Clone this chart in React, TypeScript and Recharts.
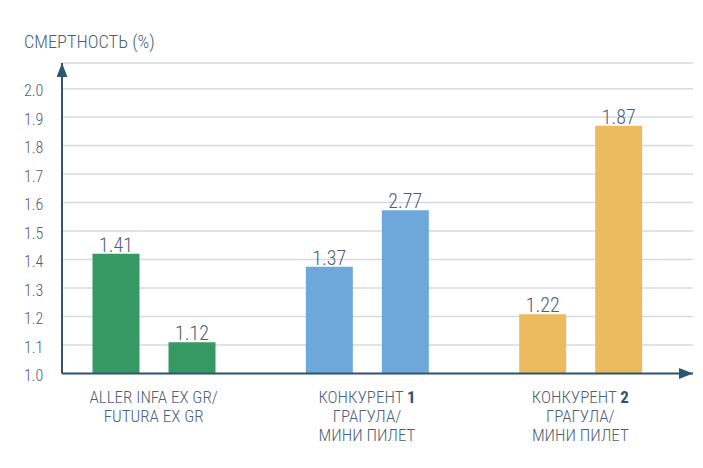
import React from 'react'
import { BarChart, Bar, XAxis, YAxis, CartesianGrid, Cell, LabelList } from 'recharts'

const categories = [
  'ALLER INFA EX GR/\nFUTURA EX GR',
  'КОНКУРЕНТ 1\nГРАГУЛА/\nМИНИ ПИЛЕТ',
  'КОНКУРЕНТ 2\nГРАГУЛА/\nМИНИ ПИЛЕТ',
]
const firstValues = [1.42, 1.375, 1.208]
const secondValues = [1.11, 1.573, 1.87]
const firstLabels = ['1.41', '1.37', '1.22']
const secondLabels = ['1.12', '2.77', '1.87']
const groupColors = ['#379963', '#6ea8db', '#ecbb60']
const yTicks = [1.0, 1.1, 1.2, 1.3, 1.4, 1.5, 1.6, 1.7, 1.8, 1.9, 2.0]
const title = 'СМЕРТНОСТЬ (%)'

const data = categories.map((name, i) => ({
  name,
  first: firstValues[i],
  second: secondValues[i],
  firstLabel: firstLabels[i],
  secondLabel: secondLabels[i],
}))

const FONT = "'Roboto Condensed', Roboto, sans-serif"
const TEXT = '#4d6176'
const AXIS = '#2f556f'

function YTick({ y, payload }: any) {
  return (
    <text x={24} y={y + 2} dy="0.35em" textAnchor="start" fill={TEXT} fontSize={16} fontWeight={300} fontFamily={FONT}>
      {Number(payload.value).toFixed(1)}
    </text>
  )
}

// one <text> per category, a tspan per line; a trailing digit is set bold
function XTick({ x, y, payload }: any) {
  const lines = String(payload.value).split('\n')
  return (
    <text x={x} y={y + 21} textAnchor="middle" fill={TEXT} fontSize={17} fontWeight={300} fontFamily={FONT}>
      {lines.map((line, i) => {
        const m = line.match(/^(.*) (\d)$/)
        return (
          <tspan key={i} x={x} dy={i === 0 ? 0 : 19}>
            {m ? m[1] + ' ' : line}
            {m && <tspan fontWeight={700} fill={AXIS}>{m[2]}</tspan>}
          </tspan>
        )
      })}
    </text>
  )
}

export default function App() {
  return (
    <div style={{ position: 'absolute', left: 0, top: 0, width: 703, height: 468, background: '#fff' }}>
      <svg width={0} height={0} style={{ position: 'absolute' }}>
        <defs>
          <marker id="axisArrow" viewBox="0 0 14 11" refX={14} refY={5.5} markerWidth={14} markerHeight={11}
            markerUnits="userSpaceOnUse" orient="auto-start-reverse">
            <path d="M0,0 L14,5.5 L0,11 z" fill={AXIS} />
          </marker>
        </defs>
      </svg>
      <div style={{ position: 'absolute', left: 24, top: 33, fontFamily: FONT, fontWeight: 300, fontSize: 18.3, lineHeight: '18.3px', color: TEXT, whiteSpace: 'nowrap' }}>
        {title}
      </div>
      <BarChart width={703} height={468} data={data} margin={{ top: 63, right: 10, left: 0, bottom: 14.5 }}
        barCategoryGap={45.5} barGap={29}>
        <CartesianGrid vertical={false} stroke="#d6dbe1" strokeWidth={1.5} />
        <XAxis dataKey="name" interval={0} tickLine={false} height={80} padding={{ left: -15, right: 6 }}
          axisLine={{ stroke: AXIS, strokeWidth: 2, markerEnd: 'url(#axisArrow)' }} tick={<XTick />} />
        <YAxis type="number" domain={[1, 2.09]} ticks={yTicks} allowDataOverflow width={62} tickLine={false}
          axisLine={{ stroke: AXIS, strokeWidth: 2, markerStart: 'url(#axisArrow)' }} tick={<YTick />} />
        <Bar dataKey="first" isAnimationActive={false}>
          {data.map((_, i) => <Cell key={i} fill={groupColors[i]} />)}
          <LabelList dataKey="firstLabel" position="top" offset={2} fill={TEXT} fontSize={20} fontWeight={300} fontFamily={FONT} />
        </Bar>
        <Bar dataKey="second" isAnimationActive={false}>
          {data.map((_, i) => <Cell key={i} fill={groupColors[i]} />)}
          <LabelList dataKey="secondLabel" position="top" offset={2} fill={TEXT} fontSize={20} fontWeight={300} fontFamily={FONT} />
        </Bar>
      </BarChart>
    </div>
  )
}
